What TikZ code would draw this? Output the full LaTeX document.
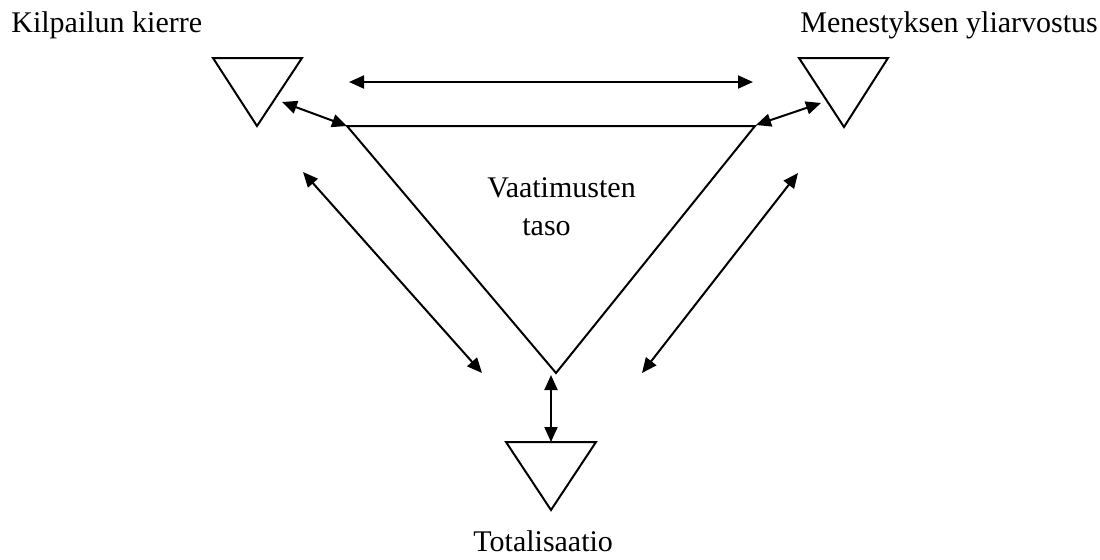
\documentclass[tikz,border=0pt]{standalone}
\usepackage{fontspec}
\setmainfont{Liberation Serif}
\usetikzlibrary{arrows.meta}
\begin{document}
\begin{tikzpicture}[x=0.5pt,y=-0.5pt,
  shape line/.style={line width=1pt,line join=miter},
  conn/.style={line width=1pt,{Triangle[length=7.5pt,width=6.5pt]}-{Triangle[length=7.5pt,width=6.5pt]}},
  lbl/.style={inner sep=0pt,anchor=base west,font=\fontsize{15}{18}\selectfont}]
\useasboundingbox (0,0) rectangle (1100,559);
% triangles
\draw[shape line] (213,58) -- (302,58) -- (257,126) -- cycle;
\draw[shape line] (799,58) -- (888,58) -- (844,127) -- cycle;
\draw[shape line] (506,442) -- (596,442) -- (551,510) -- cycle;
\draw[shape line] (347,126) -- (755,126) -- (556,373) -- cycle;
% coordinates
\coordinate (tl1) at (349,82);
\coordinate (tr1) at (753,82);
\coordinate (a1) at (282,102);
\coordinate (a2) at (347,126);
\coordinate (b1) at (756,125);
\coordinate (b2) at (821,103);
\coordinate (c1) at (303,172);
\coordinate (c2) at (482,373);
\coordinate (d1) at (798,173);
\coordinate (d2) at (642,373);
\coordinate (e1) at (551,375);
\coordinate (e2) at (551,442);
% connectors
\draw[conn] (tl1) -- (tr1);
\draw[conn] (a1) -- (a2);
\draw[conn] (b1) -- (b2);
\draw[conn] (c1) -- (c2);
\draw[conn] (d1) -- (d2);
\draw[conn] (e1) -- (e2);
% labels
\node[lbl] (k) at (11,32) {Kilpailun kierre};
\node[lbl] (m) at (800,32) {Menestyksen yliarvostus};
\node[lbl] (v) at (487,197) {Vaatimusten};
\node[lbl] (t) at (522,235) {taso};
\node[lbl] (tot) at (473,551) {Totalisaatio};
\end{tikzpicture}
\end{document}
